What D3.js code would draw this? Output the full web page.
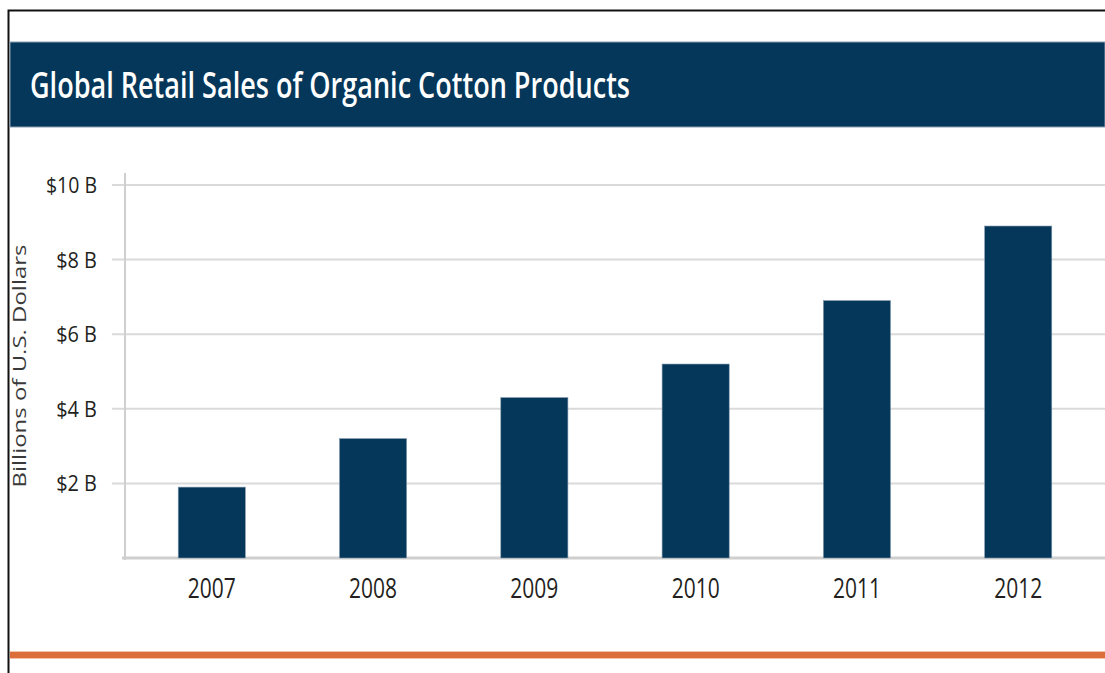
<!DOCTYPE html>
<html>
<head>
<meta charset="utf-8">
<script src="https://cdn.jsdelivr.net/npm/d3@7"></script>
<style>
    body { margin: 0; background: #fff; }
    #chart-area { width: 1105px; height: 673px; }
    .axis-text { font-family: "Open Sans", sans-serif; fill: #231f20; }
</style>
</head>
<body>
<div id="chart-area"></div>
<script>
/* * * * * * * * * * * * * *
*    organic cotton bars   *
* * * * * * * * * * * * * */

const years = ["2007", "2008", "2009", "2010", "2011", "2012"];
const sales = [1.9, 3.2, 4.3, 5.2, 6.9, 8.9];      // billions of U.S. dollars
const yTicks = [2, 4, 6, 8, 10];
const yTickLabels = ["$2 B", "$4 B", "$6 B", "$8 B", "$10 B"];

const navyColor = "#05375a";
const orangeColor = "#db6e3b";
const gridColor = "#dadada";

class CottonBarVis {

    constructor(parentElement) {
        this.parentElement = parentElement;
        this.data = years.map((y, i) => ({year: y, value: sales[i]}));
        this.initVis();
    }

    initVis () {
        let vis = this;

        vis.width = 1105;
        vis.height = 673;

        vis.svg = d3.select("#" + vis.parentElement).append("svg")
            .attr("width", vis.width)
            .attr("height", vis.height);

        // frame (top and left edges only show in the crop)
        vis.svg.append("path")
            .attr("d", `M8.5,${vis.height} V10.5 H${vis.width}`)
            .attr("fill", "none")
            .attr("stroke", "#111")
            .attr("stroke-width", 2);

        // title band
        vis.svg.append("rect")
            .attr("x", 10)
            .attr("y", 42)
            .attr("width", vis.width - 10)
            .attr("height", 85)
            .attr("fill", navyColor)
            .attr("stroke", "#8aa0b4")
            .attr("stroke-width", 1);

        vis.svg.append("text")
            .attr("x", 30)
            .attr("y", 98)
            .attr("textLength", 600)
            .attr("lengthAdjust", "spacingAndGlyphs")
            .style("font-family", "Open Sans, sans-serif")
            .style("font-size", "36px")
            .style("font-weight", 600)
            .style("fill", "white")
            .text("Global Retail Sales of Organic Cotton Products");

        // plot bounds
        vis.left = 125;
        vis.bottom = 558;

        // scales
        vis.x = d3.scaleBand()
            .domain(years)
            .range([vis.left, vis.width])
            .paddingInner(0.584)
            .paddingOuter(0.33);

        vis.y = d3.scaleLinear()
            .domain([0, 10])
            .range([vis.bottom, 185]);

        // gridlines + tick marks
        vis.svg.append("g")
            .selectAll(".grid-line")
            .data(yTicks)
            .enter()
            .append("line")
            .attr("class", "grid-line")
            .attr("x1", 112)
            .attr("x2", vis.width)
            .attr("y1", d => vis.y(d))
            .attr("y2", d => vis.y(d))
            .attr("stroke", gridColor)
            .attr("stroke-width", 2);

        // y axis line
        vis.svg.append("line")
            .attr("x1", vis.left)
            .attr("x2", vis.left)
            .attr("y1", 173)
            .attr("y2", vis.bottom + 2)
            .attr("stroke", "#cfcfcf")
            .attr("stroke-width", 2);

        // baseline
        vis.svg.append("line")
            .attr("x1", 122)
            .attr("x2", vis.width)
            .attr("y1", vis.bottom)
            .attr("y2", vis.bottom)
            .attr("stroke", "#cfcfcf")
            .attr("stroke-width", 3);

        // y tick labels
        vis.svg.append("g")
            .selectAll(".y-label")
            .data(yTicks)
            .enter()
            .append("text")
            .attr("class", "y-label axis-text")
            .attr("x", 97)
            .attr("y", d => vis.y(d) + 8)
            .attr("text-anchor", "end")
            .attr("textLength", (d, i) => yTickLabels[i].length * 10.2)
            .attr("lengthAdjust", "spacingAndGlyphs")
            .style("font-size", "22px")
            .style("font-weight", 500)
            .text((d, i) => yTickLabels[i]);

        // y axis title
        vis.svg.append("text")
            .attr("class", "axis-text")
            .attr("transform", `translate(26, 366) rotate(-90)`)
            .attr("text-anchor", "middle")
            .attr("textLength", 243)
            .attr("lengthAdjust", "spacingAndGlyphs")
            .style("font-size", "19px")
            .style("fill", "#3a3a3a")
            .text("Billions of U.S. Dollars");

        // x labels
        vis.svg.append("g")
            .selectAll(".x-label")
            .data(years)
            .enter()
            .append("text")
            .attr("class", "x-label axis-text")
            .attr("x", d => vis.x(d) + vis.x.bandwidth() / 2)
            .attr("y", 598)
            .attr("text-anchor", "middle")
            .attr("textLength", 48)
            .attr("lengthAdjust", "spacingAndGlyphs")
            .style("font-size", "28px")
            .style("font-weight", 500)
            .text(d => d);

        // orange rule at the bottom
        vis.svg.append("rect")
            .attr("x", 10)
            .attr("y", 651)
            .attr("width", vis.width - 10)
            .attr("height", 8)
            .attr("fill", "#f2c3a8");
        vis.svg.append("rect")
            .attr("x", 10)
            .attr("y", 652)
            .attr("width", vis.width - 10)
            .attr("height", 6)
            .attr("fill", orangeColor);

        vis.updateVis();
    }

    updateVis () {
        let vis = this;

        vis.svg.append("g")
            .selectAll(".cotton-bar")
            .data(vis.data)
            .enter()
            .append("rect")
            .attr("class", "cotton-bar")
            .attr("x", d => vis.x(d.year))
            .attr("y", d => vis.y(d.value))
            .attr("width", vis.x.bandwidth())
            .attr("height", d => vis.bottom - vis.y(d.value))
            .attr("fill", navyColor)
            .attr("stroke", "#7f97ab")
            .attr("stroke-width", 0.6);
    }
}

let myCottonBarVis = new CottonBarVis("chart-area");
</script>
</body>
</html>
